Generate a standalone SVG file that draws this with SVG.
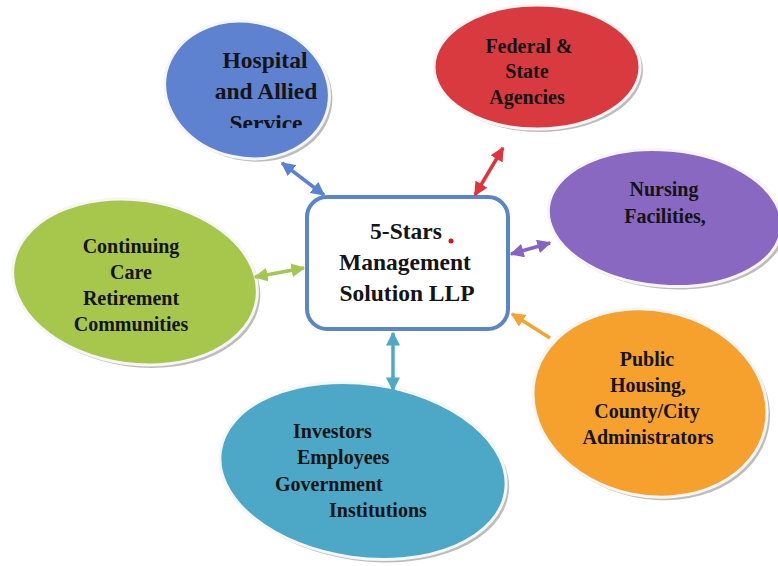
<svg xmlns="http://www.w3.org/2000/svg" width="778" height="566" viewBox="0 0 778 566">
<defs>
<style>
.t{font-family:"Liberation Serif","Times New Roman",serif;font-weight:bold;fill:#141414;}
.s17{font-size:20px;}
.s20{font-size:23.5px;}
.sh{fill:#bdbdbd;}
.rim{stroke:#f6f6f6;stroke-width:3;}
.ar{fill:none;stroke-width:3.5;}
</style>
<marker id="mb" viewBox="0 0 10 10" refX="9" refY="5" markerWidth="4" markerHeight="4" orient="auto-start-reverse" markerUnits="strokeWidth"><path d="M0,0L10,5L0,10z" fill="#5b82d2"/></marker>
<marker id="mr" viewBox="0 0 10 10" refX="9" refY="5" markerWidth="4" markerHeight="4" orient="auto-start-reverse" markerUnits="strokeWidth"><path d="M0,0L10,5L0,10z" fill="#e0343c"/></marker>
<marker id="mp" viewBox="0 0 10 10" refX="9" refY="5" markerWidth="4" markerHeight="4" orient="auto-start-reverse" markerUnits="strokeWidth"><path d="M0,0L10,5L0,10z" fill="#8763c2"/></marker>
<marker id="mo" viewBox="0 0 10 10" refX="9" refY="5" markerWidth="4" markerHeight="4" orient="auto-start-reverse" markerUnits="strokeWidth"><path d="M0,0L10,5L0,10z" fill="#f6a330"/></marker>
<marker id="mg" viewBox="0 0 10 10" refX="9" refY="5" markerWidth="4" markerHeight="4" orient="auto-start-reverse" markerUnits="strokeWidth"><path d="M0,0L10,5L0,10z" fill="#a3c850"/></marker>
<marker id="mt" viewBox="0 0 10 10" refX="9" refY="5" markerWidth="4" markerHeight="4" orient="auto-start-reverse" markerUnits="strokeWidth"><path d="M0,0L10,5L0,10z" fill="#4fa8c6"/></marker>
<clipPath id="clipH"><rect x="150" y="0" width="220" height="128"/></clipPath>
</defs>
<rect width="778" height="566" fill="#ffffff"/>

<g id="hospital">
<ellipse cx="250" cy="93" rx="83" ry="68" transform="rotate(12 250 93)" class="sh"/>
<ellipse cx="247" cy="90" rx="83" ry="68" transform="rotate(12 247 90)" fill="#5f82d0" class="rim"/>
<g clip-path="url(#clipH)">
<text class="t s20" text-anchor="middle" x="265" y="68">Hospital</text>
<text class="t s20" text-anchor="middle" x="266" y="99">and Allied</text>
<text class="t s20" text-anchor="middle" x="266" y="131">Service</text>
</g>
</g>

<g id="federal">
<ellipse cx="540" cy="70" rx="103" ry="62" class="sh"/>
<ellipse cx="537" cy="67" rx="103" ry="62" fill="#d93a40" class="rim"/>
<text class="t s17" text-anchor="middle" x="529" y="53">Federal &amp;</text>
<text class="t s17" text-anchor="middle" x="527" y="78">State</text>
<text class="t s17" text-anchor="middle" x="527" y="104">Agencies</text>
</g>

<g id="nursing">
<ellipse cx="668" cy="221" rx="117" ry="68" transform="rotate(5 668 221)" class="sh"/>
<ellipse cx="665" cy="218" rx="117" ry="68" transform="rotate(5 665 218)" fill="#8968c2" class="rim"/>
<text class="t s17" text-anchor="middle" x="664" y="196">Nursing</text>
<text class="t s17" text-anchor="middle" x="665" y="223">Facilities,</text>
</g>

<g id="ccrc">
<ellipse cx="138" cy="285" rx="123" ry="82" transform="rotate(8 138 285)" class="sh"/>
<ellipse cx="135" cy="282" rx="123" ry="82" transform="rotate(8 135 282)" fill="#a6c64c" class="rim"/>
<text class="t s17" text-anchor="middle" x="131" y="253">Continuing</text>
<text class="t s17" text-anchor="middle" x="131" y="279">Care</text>
<text class="t s17" text-anchor="middle" x="131" y="305">Retirement</text>
<text class="t s17" text-anchor="middle" x="131" y="331">Communities</text>
</g>

<g id="investors">
<ellipse cx="366" cy="474" rx="144" ry="87" transform="rotate(8 366 474)" class="sh"/>
<ellipse cx="363" cy="471" rx="144" ry="87" transform="rotate(8 363 471)" fill="#4ca8c6" class="rim"/>
<text class="t s17" x="293" y="438">Investors</text>
<text class="t s17" x="297" y="464">Employees</text>
<text class="t s17" x="275" y="491">Government</text>
<text class="t s17" x="329" y="517">Institutions</text>
</g>

<g id="public">
<ellipse cx="653" cy="406" rx="118" ry="93" transform="rotate(12 653 406)" class="sh"/>
<ellipse cx="650" cy="403" rx="118" ry="93" transform="rotate(12 650 403)" fill="#f6a12e" class="rim"/>
<text class="t s17" text-anchor="middle" x="647" y="366">Public</text>
<text class="t s17" text-anchor="middle" x="648" y="392">Housing,</text>
<text class="t s17" text-anchor="middle" x="647" y="418">County/City</text>
<text class="t s17" text-anchor="middle" x="648" y="444">Administrators</text>
</g>

<g id="center">
<rect x="307" y="197" width="201" height="132" rx="20" fill="#ffffff" stroke="#5b85c9" stroke-width="4"/>
<text class="t s20" text-anchor="middle" x="406" y="239">5-Stars</text>
<text class="t s20" text-anchor="middle" x="405" y="270">Management</text>
<text class="t s20" text-anchor="middle" x="407" y="301">Solution LLP</text>
<circle cx="451" cy="241" r="2.5" fill="#e01010"/>
</g>

<g id="connectors">
<line x1="282" y1="163" x2="324" y2="195" class="ar" stroke="#5b82d2" marker-start="url(#mb)" marker-end="url(#mb)"/>
<line x1="503" y1="148" x2="475" y2="195" class="ar" stroke="#e0343c" marker-start="url(#mr)" marker-end="url(#mr)"/>
<line x1="550" y1="243" x2="511" y2="254" class="ar" stroke="#8763c2" marker-start="url(#mp)" marker-end="url(#mp)"/>
<line x1="550" y1="338" x2="512" y2="314" class="ar" stroke="#f6a330" marker-end="url(#mo)"/>
<line x1="255" y1="277" x2="304" y2="268" class="ar" stroke="#a3c850" marker-start="url(#mg)" marker-end="url(#mg)"/>
<line x1="393" y1="333" x2="393" y2="390" class="ar" stroke="#4fa8c6" marker-start="url(#mt)" marker-end="url(#mt)"/>
</g>
</svg>
